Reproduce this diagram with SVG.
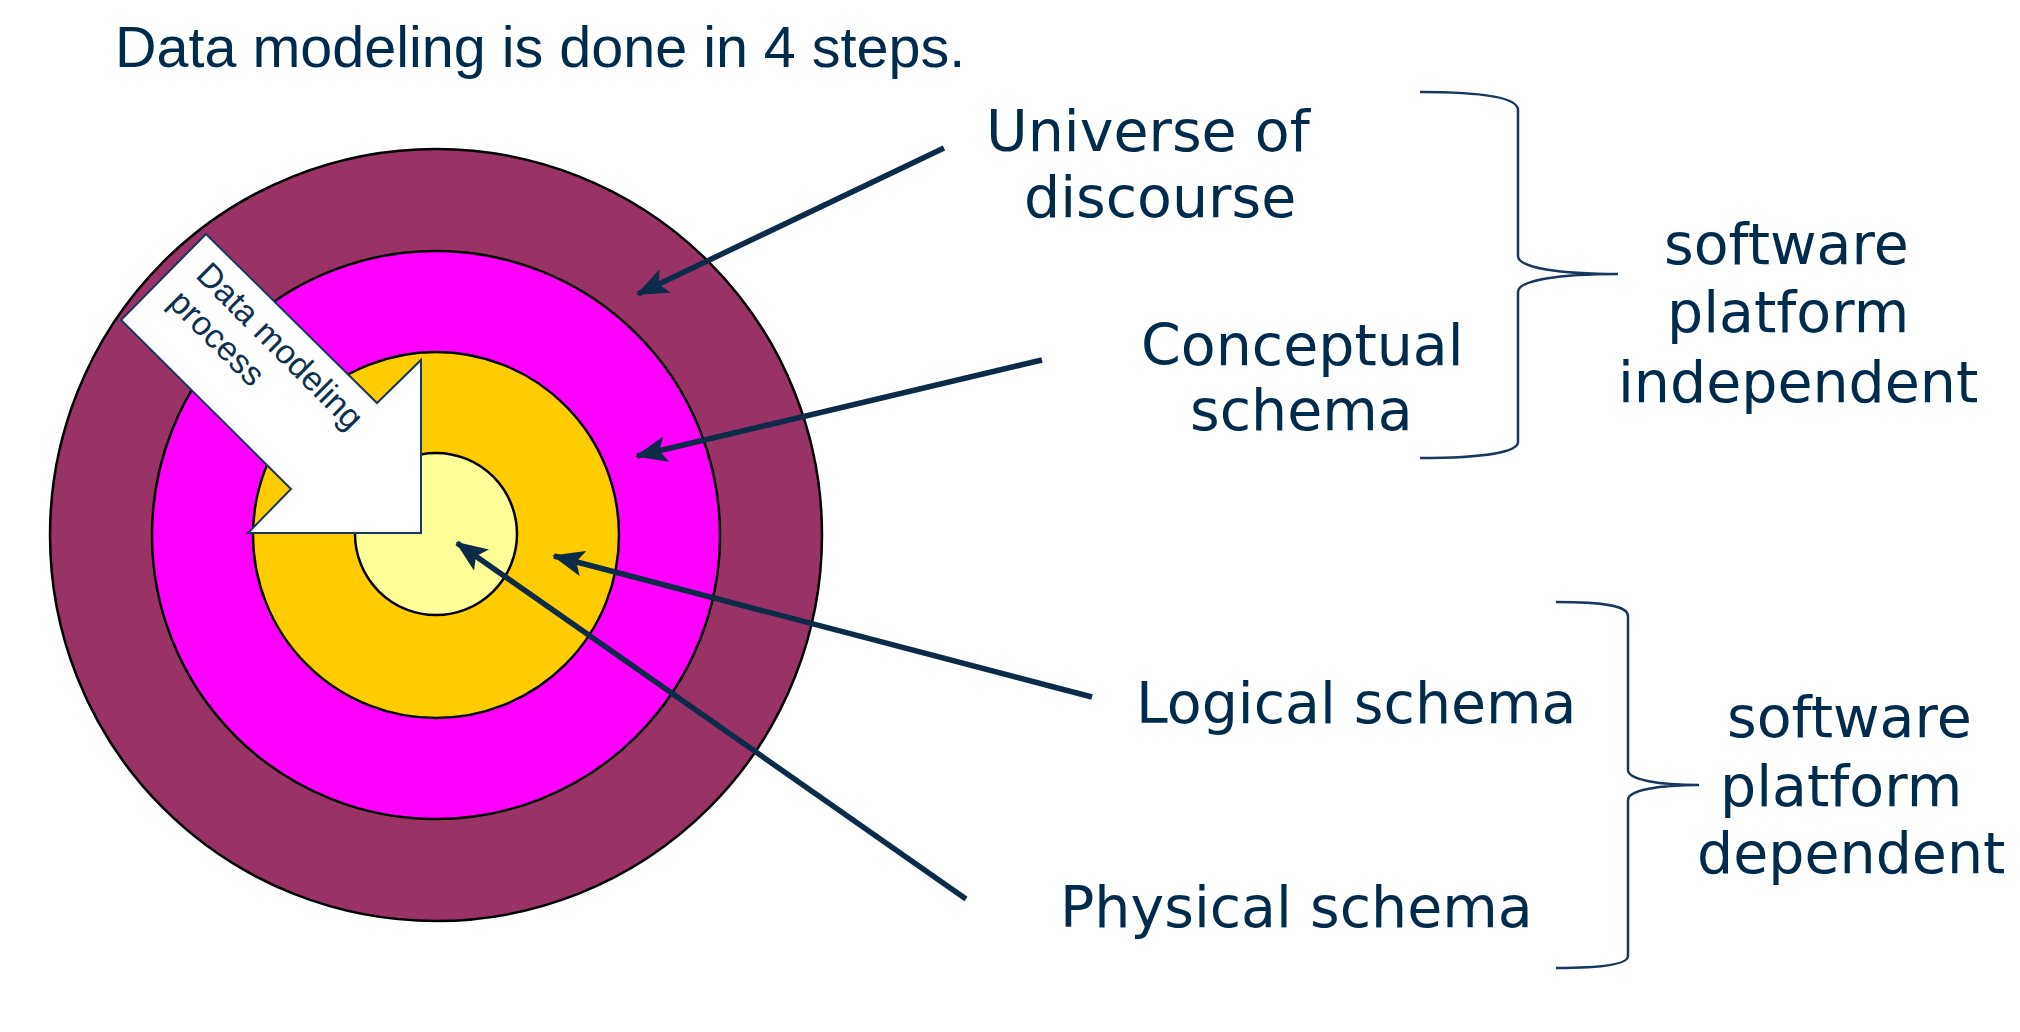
<svg xmlns="http://www.w3.org/2000/svg" width="2020" height="1032" viewBox="0 0 2020 1032">
<style>
.ring{stroke:#000;stroke-width:2.5}
.lbl{font-family:"DejaVu Sans","Verdana",sans-serif;font-size:57px;fill:#002B4C}
.title{font-family:"Liberation Sans",Arial,sans-serif;font-size:57.5px;fill:#002B4C}
.inner{font-family:"Liberation Sans",Arial,sans-serif;font-size:34px;fill:#0F3050}
.conn{stroke:#0B2B48;stroke-width:5.5;fill:none;marker-end:url(#ah)}
.brace{stroke:#17375E;stroke-width:2.5;fill:none}
</style>
<defs>
<marker id="ah" markerUnits="userSpaceOnUse" markerWidth="32" markerHeight="26" viewBox="0 0 32 26" refX="30" refY="13" orient="auto">
<path d="M0,0 L32,13 L0,26 L7,13 Z" fill="#0B2B48"/>
</marker>
</defs>
<rect width="2020" height="1032" fill="#fff"/>
<text class="title" x="115" y="67">Data modeling is done in 4 steps.</text>
<g id="rings">
<circle class="ring" cx="436" cy="535" r="386" fill="#993366"/>
<circle class="ring" cx="436" cy="535" r="284" fill="#FF00FF"/>
<circle class="ring" cx="436" cy="535" r="183" fill="#FFCC00"/>
<circle class="ring" cx="436" cy="534" r="81" fill="#FFFF99"/>
</g>
<g id="process-arrow">
<polygon points="206,234 377,403 421,360 421,533 248,533 291,489 121,320" fill="#fff" stroke="#17375E" stroke-width="2"/>
<text class="inner" transform="rotate(45)" x="333" y="58">Data modeling</text>
<text class="inner" transform="rotate(45)" x="333" y="97">process</text>
</g>
<g id="connectors">
<line class="conn" x1="944" y1="148" x2="638" y2="294"/>
<line class="conn" x1="1042" y1="360" x2="637" y2="456"/>
<line class="conn" x1="1092" y1="697" x2="554" y2="556"/>
<line class="conn" x1="966" y1="899" x2="457" y2="543"/>
</g>
<g id="universe"><text class="lbl" x="986" y="151">Universe of</text><text class="lbl" x="1024" y="217">discourse</text></g>
<g id="conceptual"><text class="lbl" x="1141" y="365">Conceptual</text><text class="lbl" x="1190" y="430">schema</text></g>
<g id="logical"><text class="lbl" x="1136" y="723">Logical schema</text></g>
<g id="physical"><text class="lbl" x="1060" y="927">Physical schema</text></g>
<g id="brace-independent">
<path class="brace" d="M1420,92 C1485,92 1518,98 1518,110 L1518,256 C1518,268 1560,274 1618,274 C1560,274 1518,280 1518,292 L1518,442 C1518,452 1485,458 1420,458"/>
<text class="lbl" x="1664" y="264">software</text>
<text class="lbl" x="1667" y="332">platform</text>
<text class="lbl" x="1618" y="402">independent</text>
</g>
<g id="brace-dependent">
<path class="brace" d="M1556,602 C1605,602 1628,606 1628,616 L1628,770 C1628,780 1660,785 1699,785 C1660,785 1628,790 1628,800 L1628,956 C1628,964 1605,968 1556,968"/>
<text class="lbl" x="1727" y="737">software</text>
<text class="lbl" x="1720" y="806">platform</text>
<text class="lbl" x="1697" y="873">dependent</text>
</g>
</svg>
